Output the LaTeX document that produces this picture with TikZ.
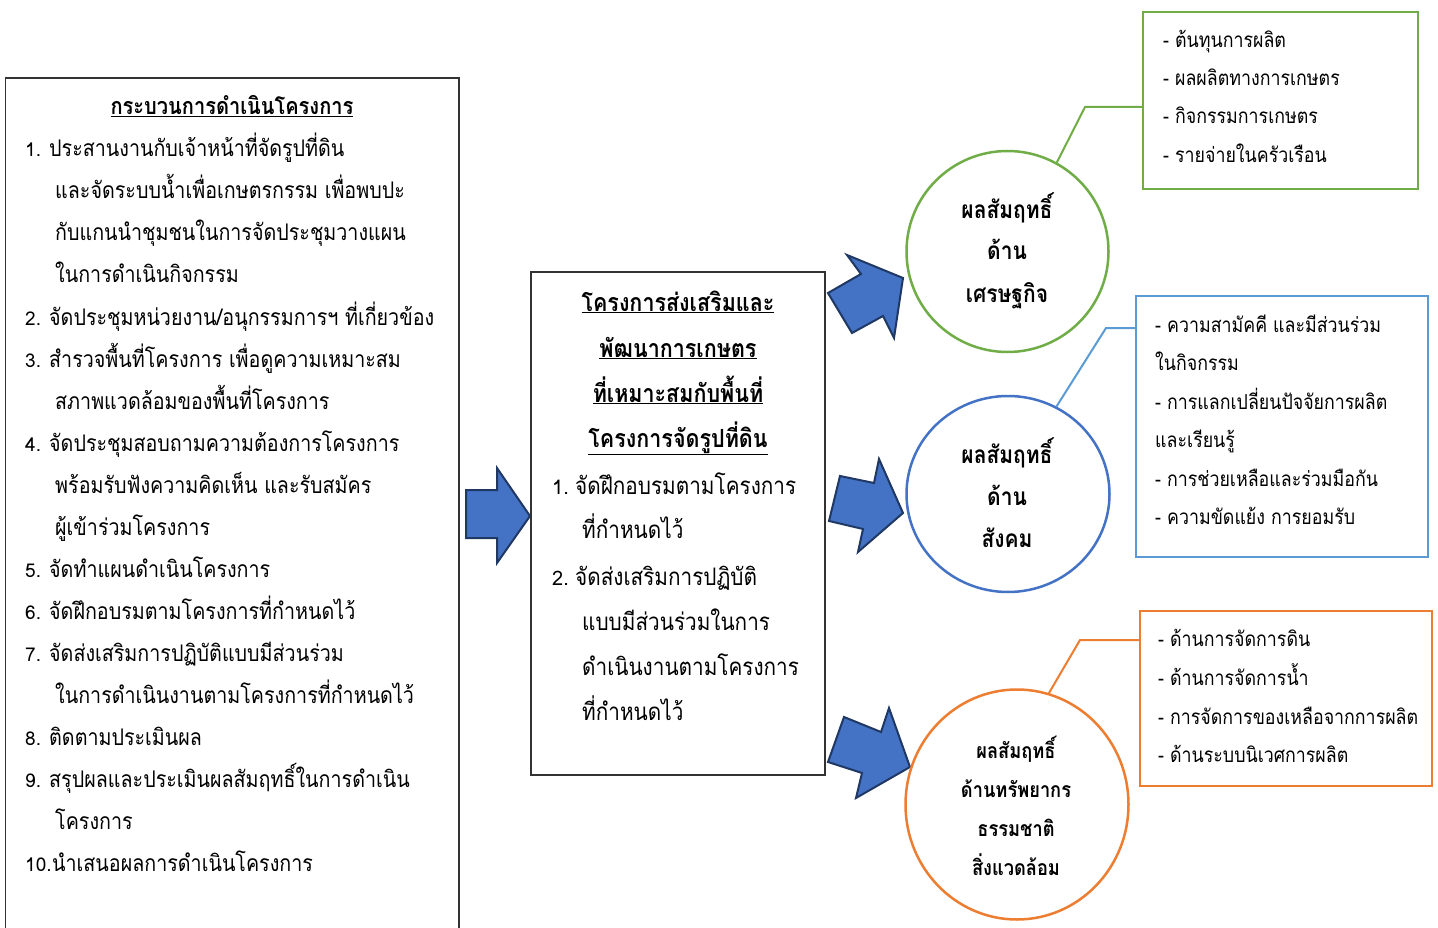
\documentclass[tikz,border=0pt]{standalone}
\usepackage{fontspec}
\newfontfamily\thaifont[Script=Thai, FakeStretch=0.86]{Loma}
\newfontfamily\numfont{Loma}
\usetikzlibrary{shapes.geometric}
\definecolor{cgreen}{HTML}{70AD47}
\definecolor{cblue}{HTML}{4472C4}
\definecolor{clblue}{HTML}{5B9BD5}
\definecolor{corange}{HTML}{ED7D31}
\definecolor{arrowfill}{HTML}{4472C4}
\definecolor{arrowline}{HTML}{1F3864}
\begin{document}
\begin{tikzpicture}[x=1pt,y=-1pt,
  lnum/.style={anchor=base west, inner sep=0pt, font=\numfont\fontsize{19}{19}\selectfont},
  mnum/.style={anchor=base west, inner sep=0pt, font=\numfont\fontsize{20}{20}\selectfont},
  ltxt/.style={anchor=base west, inner sep=0pt, font=\thaifont\fontsize{22.9}{23}\selectfont},
  ltitle/.style={anchor=base, inner sep=0pt, font=\thaifont\bfseries\fontsize{23.3}{23}\selectfont},
  mtxt/.style={anchor=base west, inner sep=0pt, font=\thaifont\fontsize{24.1}{24}\selectfont},
  mtitle/.style={anchor=base, inner sep=0pt, font=\thaifont\bfseries\fontsize{25}{25}\selectfont},
  rtxt/.style={anchor=base west, inner sep=0pt, font=\thaifont\fontsize{20.7}{21}\selectfont},
  ctxt/.style={anchor=base, inner sep=0pt, font=\thaifont\bfseries\fontsize{24.4}{24}\selectfont},
  otxt/.style={anchor=base, inner sep=0pt, font=\thaifont\bfseries\fontsize{21.2}{21}\selectfont},
  blockarrow/.style={fill=arrowfill, draw=arrowline, line width=2pt, line join=miter},
  circ/.style={ellipse, draw, line width=2.5pt, inner sep=0pt},
  rbox/.style={draw, line width=2.5pt, inner sep=0pt},
  leader/.style={line width=2pt}
]
\useasboundingbox[fill=white] (0,0) rectangle (1438,928);

% ---------- left box ----------
\draw[line width=1.3pt, black!80] (5.5,940) -- (5.5,78) -- (459,78) -- (459,940);
\node[ltitle] (lt) at (232,115) {\underline{กระบวนการดำเนินโครงการ}};
\node[lnum] (n1) at (25,157) {1.};
\node[ltxt] (l1)  at (49,157) {ประสานงานกับเจ้าหน้าที่จัดรูปที่ดิน};
\node[ltxt] (l2)  at (55,199) {และจัดระบบน้ำเพื่อเกษตรกรรม เพื่อพบปะ};
\node[ltxt] (l3)  at (55,241) {กับแกนนำชุมชนในการจัดประชุมวางแผน};
\node[ltxt] (l4)  at (55,283) {ในการดำเนินกิจกรรม};
\node[lnum] (n2) at (25,325) {2.};
\node[ltxt] (l5)  at (49,325) {จัดประชุมหน่วยงาน/อนุกรรมการฯ ที่เกี่ยวข้อง};
\node[lnum] (n3) at (25,367) {3.};
\node[ltxt] (l6)  at (49,367) {สำรวจพื้นที่โครงการ เพื่อดูความเหมาะสม};
\node[ltxt] (l7)  at (55,409) {สภาพแวดล้อมของพื้นที่โครงการ};
\node[lnum] (n4) at (25,451) {4.};
\node[ltxt] (l8)  at (49,451) {จัดประชุมสอบถามความต้องการโครงการ};
\node[ltxt] (l9)  at (55,493) {พร้อมรับฟังความคิดเห็น และรับสมัคร};
\node[ltxt] (l10) at (55,535) {ผู้เข้าร่วมโครงการ};
\node[lnum] (n5) at (25,577) {5.};
\node[ltxt] (l11) at (49,577) {จัดทำแผนดำเนินโครงการ};
\node[lnum] (n6) at (25,619) {6.};
\node[ltxt] (l12) at (49,619) {จัดฝึกอบรมตามโครงการที่กำหนดไว้};
\node[lnum] (n7) at (25,661) {7.};
\node[ltxt] (l13) at (49,661) {จัดส่งเสริมการปฏิบัติแบบมีส่วนร่วม};
\node[ltxt] (l14) at (55,703) {ในการดำเนินงานตามโครงการที่กำหนดไว้};
\node[lnum] (n8) at (25,745) {8.};
\node[ltxt] (l15) at (49,745) {ติดตามประเมินผล};
\node[lnum] (n9) at (25,787) {9.};
\node[ltxt] (l16) at (49,787) {สรุปผลและประเมินผลสัมฤทธิ์ในการดำเนิน};
\node[ltxt] (l17) at (55,829) {โครงการ};
\node[lnum] (n10) at (25,871) {10.};
\node[ltxt] (l18) at (52,871) {นำเสนอผลการดำเนินโครงการ};

% ---------- left arrow ----------
\draw[blockarrow] (466,490) -- (497,490) -- (497,468) -- (530,516) -- (497,563) -- (497,538) -- (466,538) -- cycle;

% ---------- middle box ----------
\node[draw, line width=1.3pt, black!80, minimum width=294pt, minimum height=503pt, inner sep=0pt] (mbox) at (678,523.5) {};
\node[mtitle] (m1) at (678,311) {\underline{โครงการส่งเสริมและ}};
\node[mtitle] (m2) at (678,357) {\underline{พัฒนาการเกษตร}};
\node[mtitle] (m3) at (678,402) {\underline{ที่เหมาะสมกับพื้นที่}};
\node[mtitle] (m4) at (678,447) {\underline{โครงการจัดรูปที่ดิน}};
\node[mnum] (mn1) at (552,494) {1.};
\node[mtxt] (m5)  at (575,494) {จัดฝึกอบรมตามโครงการ};
\node[mtxt] (m6)  at (582,538) {ที่กำหนดไว้};
\node[mnum] (mn2) at (552,585) {2.};
\node[mtxt] (m7)  at (575,585) {จัดส่งเสริมการปฏิบัติ};
\node[mtxt] (m8)  at (582,630) {แบบมีส่วนร่วมในการ};
\node[mtxt] (m9)  at (582,675) {ดำเนินงานตามโครงการ};
\node[mtxt] (m10) at (582,720) {ที่กำหนดไว้};

% ---------- block arrows to circles ----------
\draw[blockarrow] (828,293) -- (861,274) -- (847,255) -- (903,278) -- (894,338) -- (883,316) -- (852,333) -- cycle;
\draw[blockarrow] (829,521) -- (840,476) -- (874,483) -- (879,459) -- (903,513) -- (858,552) -- (863,529) -- cycle;
\draw[blockarrow] (828,762) -- (844,717) -- (881,732) -- (889,708) -- (910,767) -- (856,798) -- (862,773) -- cycle;

% ---------- circles ----------
\node[circ, cgreen, minimum width=202pt, minimum height=201pt] (gc) at (1007.5,251.5) {};
\node[ctxt] (gc1) at (1007,219) {ผลสัมฤทธิ์};
\node[ctxt] (gc2) at (1007,260) {ด้าน};
\node[ctxt] (gc3) at (1007,302) {เศรษฐกิจ};

\node[circ, cblue, minimum width=203pt, minimum height=196pt] (bc) at (1008,494) {};
\node[ctxt] (bc1) at (1007,463) {ผลสัมฤทธิ์};
\node[ctxt] (bc2) at (1007,505) {ด้าน};
\node[ctxt] (bc3) at (1007,547) {สังคม};

\node[circ, corange, minimum width=223pt, minimum height=230pt] (oc) at (1017,804.5) {};
\node[otxt] (oc1) at (1016,758) {ผลสัมฤทธิ์};
\node[otxt] (oc2) at (1016,797) {ด้านทรัพยากร};
\node[otxt] (oc3) at (1016,836) {ธรรมชาติ};
\node[otxt] (oc4) at (1016,875) {สิ่งแวดล้อม};

% ---------- right boxes ----------
\node[rbox, cgreen, minimum width=275pt, minimum height=177pt] (gb) at (1280.5,100.5) {};
\node[rtxt] (g1) at (1163,48) {- ต้นทุนการผลิต};
\node[rtxt] (g2) at (1163,86) {- ผลผลิตทางการเกษตร};
\node[rtxt] (g3) at (1163,124) {- กิจกรรมการเกษตร};
\node[rtxt] (g4) at (1163,163) {- รายจ่ายในครัวเรือน};

\node[rbox, clblue, minimum width=292pt, minimum height=261pt] (bb) at (1282,426.5) {};
\node[rtxt] (b1) at (1155,332) {- ความสามัคคี และมีส่วนร่วม};
\node[rtxt] (b2) at (1155,370) {ในกิจกรรม};
\node[rtxt] (b3) at (1155,409) {- การแลกเปลี่ยนปัจจัยการผลิต};
\node[rtxt] (b4) at (1155,447) {และเรียนรู้};
\node[rtxt] (b5) at (1155,486) {- การช่วยเหลือและร่วมมือกัน};
\node[rtxt] (b6) at (1155,524) {- ความขัดแย้ง การยอมรับ};

\node[rbox, corange, minimum width=292pt, minimum height=175pt] (ob) at (1286,698.5) {};
\node[rtxt] (o1) at (1158,646) {- ด้านการจัดการดิน};
\node[rtxt] (o2) at (1158,685) {- ด้านการจัดการน้ำ};
\node[rtxt] (o3) at (1158,724) {- การจัดการของเหลือจากการผลิต};
\node[rtxt] (o4) at (1158,762) {- ด้านระบบนิเวศการผลิต};

% ---------- leader lines ----------
\coordinate (gk) at (1085,107);
\coordinate (bk) at (1106,328);
\coordinate (ok) at (1080,640);
\draw[leader, cgreen] (gc.61) -- (gk) -- (gb.west |- gk);
\draw[leader, clblue] (bc.61) -- (bk) -- (bb.west |- bk);
\draw[leader, corange] (oc.74) -- (ok) -- (ob.west |- ok);
\end{tikzpicture}
\end{document}
